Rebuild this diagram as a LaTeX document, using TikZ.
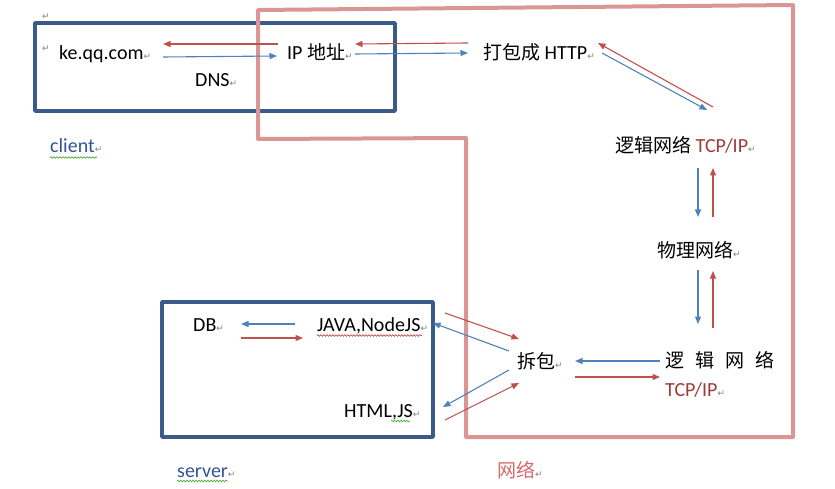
\documentclass[tikz,border=0pt]{standalone}
\usepackage{fontspec}
\setmainfont{Carlito}
\newfontfamily\cjk[Scale=0.95]{Noto Sans CJK SC}
\newfontfamily\symf{DejaVu Sans}
\usetikzlibrary{arrows.meta,decorations.pathmorphing}
\definecolor{boxblue}{HTML}{3A5A8A}
\definecolor{netpink}{HTML}{D99694}
\definecolor{ared}{HTML}{C0504D}
\definecolor{ablue}{HTML}{4F81BD}
\definecolor{lblue}{HTML}{2F5597}
\definecolor{tcpred}{HTML}{9E3B39}
\definecolor{wlred}{HTML}{D46A6A}
\definecolor{sqgreen}{HTML}{4CAF3A}
\newcommand{\retmark}{{\symf\fontsize{9}{9}\selectfont\color{gray}↵}}
\tikzset{
  lbl/.style={inner sep=0pt, anchor=base west, font=\fontsize{20}{24}\selectfont},
  redarr/.style={draw=ared, line width=1.1pt, -{Triangle[length=7.5pt,width=6pt]}},
  bluearr/.style={draw=ablue, line width=1.1pt, -{Triangle[length=7.5pt,width=6pt]}},
  bluebox/.style={draw=boxblue, line width=3.5pt, line join=round},
  netline/.style={draw=netpink, line width=4pt, line join=round},
  squig/.style={line width=0.7pt, decorate, decoration={snake, amplitude=0.8pt, segment length=3pt}}
}
\begin{document}
\begin{tikzpicture}[x=1pt,y=-1pt]
\useasboundingbox (0,0) rectangle (835,489);

% boxes
\draw[bluebox] (35,23) rectangle (395,111);
\draw[bluebox] (162,302) rectangle (433,437);
\draw[netline] (258,10) -- (793,5) -- (793,437) -- (466,437) -- (466,138) -- (258,139) -- cycle;

% texts
\node[lbl] (r0) at (42,20) {\retmark};
\node[lbl] (r1) at (42,52) {\retmark};
\node[lbl] (ke) at (59,60) {ke.qq.com\retmark};
\node[lbl] (dns) at (195,87) {DNS\retmark};
\node[lbl] (ip) at (287,60) {IP {\cjk 地址}\retmark};
\node[lbl] (http) at (483,60) {{\cjk 打包成} HTTP\retmark};
\node[lbl] (logic1) at (615,153) {{\cjk 逻辑网络} \textcolor{tcpred}{TCP/IP}\retmark};
\node[lbl] (phys) at (657,257) {{\cjk 物理网络}\retmark};
\node[lbl] (logic2) at (665,367) {\cjk 逻\hspace{11pt}辑\hspace{11pt}网\hspace{11pt}络};
\node[lbl] (tcp2) at (665,396) {\textcolor{tcpred}{TCP/IP}\retmark};
\node[lbl] (unpack) at (517,368) {{\cjk 拆包}\retmark};
\node[lbl] (db) at (193,331) {DB\retmark};
\node[lbl] (java) at (317,331) {JAVA,NodeJS\retmark};
\node[lbl] (html) at (344,417) {HTML,JS\retmark};
\node[lbl,text=lblue] (client) at (50,153) {client\retmark};
\node[lbl,text=lblue] (server) at (177,477) {server\retmark};
\node[lbl,text=wlred] (net) at (497,477) {{\cjk 网络}\retmark};

% squiggles
\draw[squig,sqgreen] (50,157.5) -- (97,157.5);
\draw[squig,sqgreen] (177,481) -- (228,481);
\draw[squig,sqgreen] (391,421) -- (410,421);
\draw[squig,ared] (317,335.5) -- (422,335.5);

% arrow end points
\coordinate (a1s) at (278,44);  \coordinate (a1e) at (163,44);
\coordinate (a2s) at (163,57);  \coordinate (a2e) at (277,56);
\coordinate (a3s) at (468,43);  \coordinate (a3e) at (355,44);
\coordinate (a4s) at (355,54);  \coordinate (a4e) at (468,53);
\coordinate (a5s) at (713,107); \coordinate (a5e) at (598,43);
\coordinate (a6s) at (602,53);  \coordinate (a6e) at (707,110);
\coordinate (a7s) at (698,168); \coordinate (a7e) at (698,217);
\coordinate (a8s) at (713,217); \coordinate (a8e) at (713,168);
\coordinate (a9s) at (698,270); \coordinate (a9e) at (698,324);
\coordinate (a10s) at (713,328); \coordinate (a10e) at (713,271);
\coordinate (a11s) at (660,361); \coordinate (a11e) at (575,361);
\coordinate (a12s) at (575,377); \coordinate (a12e) at (660,377);
\coordinate (a13s) at (445,313); \coordinate (a13e) at (519,339);
\coordinate (a14s) at (509,351); \coordinate (a14e) at (433,323);
\coordinate (a15s) at (509,370); \coordinate (a15e) at (443,407);
\coordinate (a16s) at (445,420); \coordinate (a16e) at (519,383);
\coordinate (a17s) at (295,324); \coordinate (a17e) at (241,324);
\coordinate (a18s) at (241,338); \coordinate (a18e) at (303,338);

\draw[redarr]  (a1s) -- (a1e);
\draw[bluearr] (a2s) -- (a2e);
\draw[redarr]  (a3s) -- (a3e);
\draw[bluearr] (a4s) -- (a4e);
\draw[redarr]  (a5s) -- (a5e);
\draw[bluearr] (a6s) -- (a6e);
\draw[bluearr] (a7s) -- (a7e);
\draw[redarr]  (a8s) -- (a8e);
\draw[bluearr] (a9s) -- (a9e);
\draw[redarr]  (a10s) -- (a10e);
\draw[bluearr] (a11s) -- (a11e);
\draw[redarr]  (a12s) -- (a12e);
\draw[redarr]  (a13s) -- (a13e);
\draw[bluearr] (a14s) -- (a14e);
\draw[bluearr] (a15s) -- (a15e);
\draw[redarr]  (a16s) -- (a16e);
\draw[bluearr] (a17s) -- (a17e);
\draw[redarr]  (a18s) -- (a18e);
\end{tikzpicture}
\end{document}
